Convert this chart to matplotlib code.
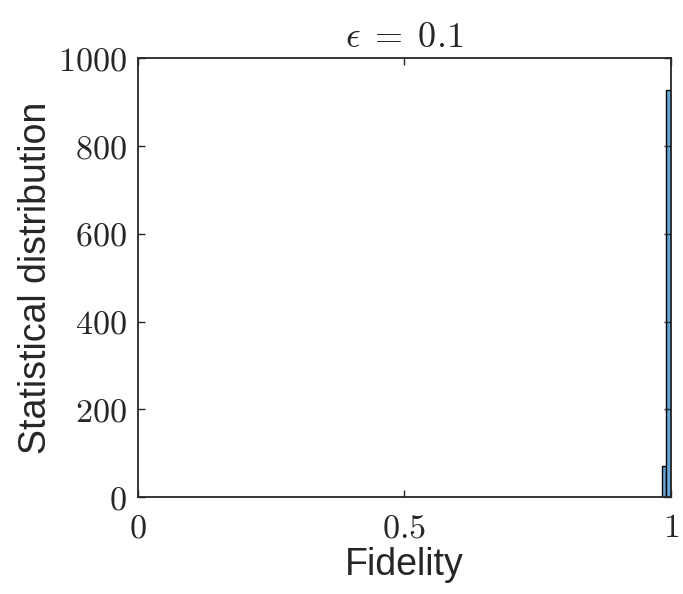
import numpy as np
import matplotlib.pyplot as plt
from matplotlib.ticker import FixedLocator, FuncFormatter

# histogram of fidelity samples (bin edges and counts)
bin_edges = [0.983, 0.992, 1.0]
counts = [72, 928]

x_ticks = [0, 0.5, 1]
y_ticks = [0, 200, 400, 600, 800, 1000]

plt.rcParams['mathtext.fontset'] = 'cm'
plt.rcParams['font.family'] = ['Liberation Sans', 'DejaVu Sans']

fig = plt.figure(figsize=(6.83, 5.94), dpi=100)
ax = fig.add_axes([0.202, 0.163, 0.78, 0.739])

widths = np.diff(bin_edges)
ax.bar(bin_edges[:-1], counts, width=widths, align='edge',
       color=(0.40, 0.66, 0.85), edgecolor='black', linewidth=1.0)

ax.set_xlim(0, 1)
ax.set_ylim(0, 1000)
ax.xaxis.set_major_locator(FixedLocator(x_ticks))
ax.yaxis.set_major_locator(FixedLocator(y_ticks))
ax.xaxis.set_major_formatter(FuncFormatter(lambda v, p: r'$%g$' % v))
ax.yaxis.set_major_formatter(FuncFormatter(lambda v, p: r'$%g$' % v))

ax.tick_params(direction='in', top=True, right=True, length=5,
               width=1.0, labelsize=24.5, color='#262626', labelcolor='#262626')
ax.tick_params(axis='x', pad=11.5)
ax.tick_params(axis='y', pad=8)
for s in ax.spines.values():
    s.set_linewidth(1.3)
    s.set_color('#262626')

ax.set_xlabel('Fidelity', fontsize=27, color='#262626', labelpad=2)
ax.set_ylabel('Statistical distribution', fontsize=27, color='#262626', labelpad=3)
ax.set_title(r'$\epsilon\;=\;0.1$', fontsize=26, color='#262626', pad=8)

fig.savefig('out.png', dpi=100)
